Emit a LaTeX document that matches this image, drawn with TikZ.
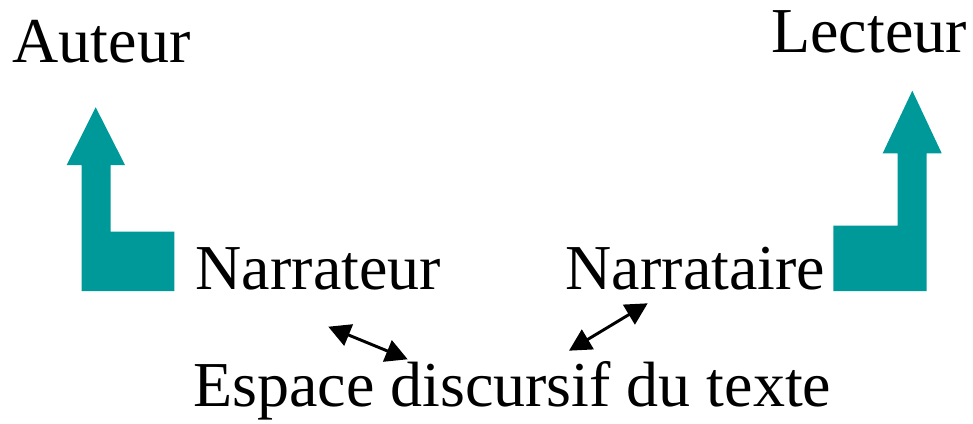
\documentclass[tikz,border=0pt]{standalone}
\usepackage{fontspec}
\setmainfont{Liberation Serif}
\usetikzlibrary{arrows.meta}
\definecolor{tealfill}{RGB}{0,153,153}
\begin{document}
\begin{tikzpicture}[x=0.75pt,y=-0.75pt,
  lbl/.style={anchor=base west,inner sep=0pt,font=\fontsize{48}{52}\selectfont},
  tealshape/.style={fill=tealfill,draw=none},
  dbl/.style={line width=2.2pt,{Triangle[length=16.5pt,width=17pt]}-{Triangle[length=16.5pt,width=17pt]}}]
\useasboundingbox (0,0) rectangle (973,424);
% teal angled arrows
\fill[tealshape] (95.7,107.3) -- (125,165) -- (110.7,165) -- (110.7,231.7) -- (174.3,231.7) -- (174.3,291) -- (81.7,291) -- (81.7,165) -- (66.7,165) -- cycle;
\fill[tealshape] (912.3,90.7) -- (941.7,153.3) -- (926.7,153.3) -- (926.7,291) -- (833.3,291) -- (833.3,225.7) -- (897.7,225.7) -- (897.7,153.3) -- (882.7,153.3) -- cycle;
% labels
\node[lbl] (auteur) at (12.5,62.3) {Auteur};
\node[lbl] (lecteur) at (771,52.7) {Lecteur};
\node[lbl] (narrateur) at (195.5,289.3) {Narrateur};
\node[lbl] (narrataire) at (565.5,289.3) {Narrataire};
\node[lbl] (espace) at (193,406.7) {Espace discursif du texte};
% double arrows
\coordinate (a1) at (328.3,326.7);
\coordinate (a2) at (407.7,359.3);
\coordinate (b1) at (569,350.7);
\coordinate (b2) at (647.7,303.3);
\draw[dbl] (a1) -- (a2);
\draw[dbl] (b1) -- (b2);
\end{tikzpicture}
\end{document}
